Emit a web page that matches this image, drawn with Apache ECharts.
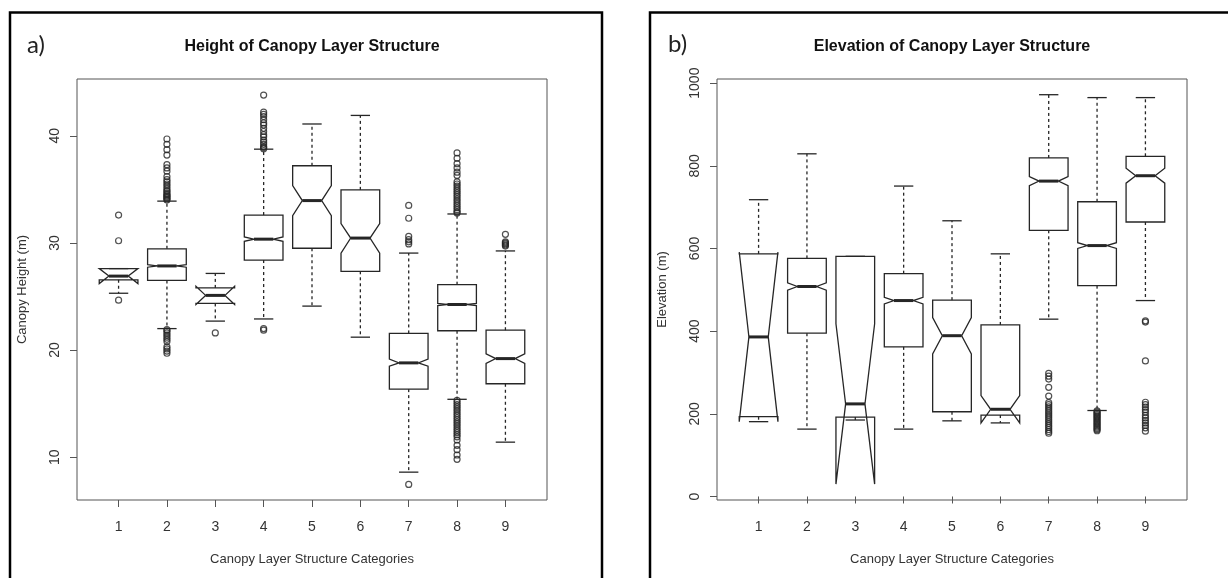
<!DOCTYPE html>
<html>
<head>
<meta charset="utf-8">
<title>Canopy Layer Structure</title>
<script src="https://cdn.jsdelivr.net/npm/echarts@6/dist/echarts.min.js"></script>
<style>
  html, body { margin: 0; padding: 0; background: #fff; }
  #chart { width: 1228px; height: 578px; }
</style>
</head>
<body>
<div id="chart"></div>
<script>
// canopy layer structure categories
const categories = [1, 2, 3, 4, 5, 6, 7, 8, 9];

// a) canopy height (m) - whisker / hinge / notch / median values per category
const heightWhiskerLo = [25.3, 22.0, 22.7, 22.9, 24.1, 21.2, 8.6, 15.4, 11.4];
const heightQ1 = [26.55, 26.5, 24.35, 28.4, 29.5, 27.35, 16.35, 21.8, 16.85];
const heightConfLo = [26.2, 27.73, 24.25, 30.15, 32.55, 29.05, 18.5, 24.15, 18.75];
const heightMedian = [26.9, 27.85, 25.1, 30.35, 33.95, 30.45, 18.8, 24.25, 19.2];
const heightConfHi = [27.6, 27.97, 25.95, 30.55, 35.35, 31.8, 19.15, 24.35, 19.65];
const heightQ3 = [27.6, 29.45, 25.8, 32.6, 37.2, 34.95, 21.55, 26.1, 21.85];
const heightWhiskerHi = [27.6, 33.9, 27.15, 38.75, 41.1, 41.9, 29.05, 32.7, 29.25];
const heightOutliers = [
  [32.6, 30.2, 24.65],
  [39.7, 39.2, 38.7, 38.2, 37.3, 37.0, 36.7, 36.2, 35.9, 35.7, 35.5, 35.3, 35.1, 34.9, 34.8, 34.6, 34.5, 34.4, 34.3, 34.2, 34.1, 34.0,
   21.9, 21.8, 21.6, 21.4, 21.2, 21.0, 20.8, 20.3, 20.1, 19.9, 19.7],
  [21.6],
  [43.8, 42.2, 42.0, 41.8, 41.5, 41.2, 41.0, 40.7, 40.4, 40.1, 39.9, 39.6, 39.4, 39.2, 39.0, 38.9, 38.8, 22.0, 21.85],
  [],
  [],
  [33.5, 32.3, 30.6, 30.3, 30.1, 29.9, 7.45],
  [38.4, 37.9, 37.4, 37.0, 36.6, 36.3, 35.7, 35.5, 35.3, 35.1, 34.9, 34.7, 34.5, 34.3, 34.1, 33.9, 33.7, 33.5, 33.3, 33.1, 32.9, 32.8,
   15.3, 15.1, 14.9, 14.7, 14.5, 14.3, 14.1, 13.9, 13.7, 13.5, 13.3, 13.1, 12.9, 12.7, 12.5, 12.3, 12.1, 11.9, 11.6, 11.1, 10.7, 10.2, 9.8],
  [30.8, 30.1, 30.0, 29.9, 29.8, 29.7]
];
const heightTicks = [10, 20, 30, 40];

// b) elevation (m)
const elevWhiskerLo = [181, 163, 185, 163, 183, 178, 429, 208, 474];
const elevQ1 = [193, 395, 192, 362, 205, 197, 644, 510, 664];
const elevConfLo = [181, 499, 30, 466, 345, 178, 752, 600, 758];
const elevMedian = [386, 508, 224, 474, 389, 211, 763, 607, 776];
const elevConfHi = [591, 517, 418, 482, 433, 244, 774, 614, 794];
const elevQ3 = [587, 576, 581, 539, 475, 415, 819, 713, 823];
const elevWhiskerHi = [718, 829, 581, 751, 667, 587, 972, 965, 965];
const elevOutliers = [
  [],
  [],
  [],
  [],
  [],
  [],
  [298, 291, 284, 264, 243, 227, 222, 217, 212, 207, 202, 197, 192, 187, 182, 177, 172, 167, 162, 157, 153],
  [207, 204, 201, 198, 195, 192, 189, 186, 183, 180, 177, 174, 171, 168, 165, 162, 159],
  [425, 422, 328, 228, 222, 216, 210, 204, 196, 190, 184, 178, 172, 166, 158]
];
const elevTicks = [0, 200, 400, 600, 800, 1000];

const LINE = "#262626";
const BOX_HALF = 0.4;     // boxwex 0.8
const STAPLE_HALF = 0.2;
const FONT = "'Liberation Sans', Arial, sans-serif";

const boxRows = (lo, q1, cl, md, ch, q3, hi) =>
  categories.map((c, i) => [c, lo[i], q1[i], cl[i], md[i], ch[i], q3[i], hi[i]]);

const outlierPoints = (list) => {
  const pts = [];
  list.forEach((vals, i) => vals.forEach((v) => pts.push([categories[i], v])));
  return pts;
};

// notched box like R's bxp(notch = TRUE)
const renderNotchBox = (params, api) => {
  const x = api.value(0);
  const [wLo, q1, cLo, med, cHi, q3, wHi] = [1, 2, 3, 4, 5, 6, 7].map((i) => api.value(i));
  const w = BOX_HALF, nf = 0.5, sw = STAPLE_HALF;
  const p = (dx, v) => api.coord([x + dx, v]);
  const line = (a, b, extra) => ({
    type: "line",
    shape: { x1: a[0], y1: a[1], x2: b[0], y2: b[1] },
    style: Object.assign({ stroke: LINE, lineWidth: 1.3 }, extra || {})
  });
  const children = [];
  if (wHi > q3) children.push(line(p(0, q3), p(0, wHi), { lineDash: [3, 3] }));
  if (wLo < q1) children.push(line(p(0, q1), p(0, wLo), { lineDash: [3, 3] }));
  children.push(line(p(-sw, wHi), p(sw, wHi)));
  children.push(line(p(-sw, wLo), p(sw, wLo)));
  children.push({
    type: "polygon",
    shape: {
      points: [p(-w, q1), p(w, q1), p(w, cLo), p(w * nf, med), p(w, cHi),
               p(w, q3), p(-w, q3), p(-w, cHi), p(-w * nf, med), p(-w, cLo)]
    },
    style: { fill: "none", stroke: LINE, lineWidth: 1.3 }
  });
  children.push(line(p(-w * nf, med), p(w * nf, med), { lineWidth: 3 }));
  return { type: "group", children };
};

const xAxisOf = (gridIndex) => ({
  type: "value",
  gridIndex,
  min: 0.14,
  max: 9.86,
  name: "Canopy Layer Structure Categories",
  nameLocation: "middle",
  nameGap: 53,
  nameTextStyle: { fontFamily: FONT, fontSize: 13, color: "#333" },
  axisLine: { show: false },
  axisTick: { show: true, inside: false, length: 7, customValues: categories, lineStyle: { color: "#555" } },
  axisLabel: { customValues: categories, margin: 20, fontFamily: FONT, fontSize: 14, color: "#333", formatter: (v) => String(v) },
  splitLine: { show: false }
});

const yAxisOf = (gridIndex, name, min, max, ticks) => ({
  type: "value",
  gridIndex,
  min,
  max,
  name,
  nameLocation: "middle",
  nameGap: 48,
  nameTextStyle: { fontFamily: FONT, fontSize: 13, color: "#333" },
  axisLine: { show: false },
  axisTick: { show: true, inside: false, length: 7, customValues: ticks, lineStyle: { color: "#555" } },
  axisLabel: { customValues: ticks, rotate: 90, margin: 15, fontFamily: FONT, fontSize: 14, color: "#333", formatter: (v) => String(v) },
  splitLine: { show: false }
});

const chart = echarts.init(document.getElementById("chart"));

const options = {
  animation: false,
  backgroundColor: "#fff",
  grid: [
    { left: 77, top: 79, width: 470, height: 421, show: true, borderColor: "#555", borderWidth: 1, backgroundColor: "transparent" },
    { left: 717, top: 79, width: 470, height: 421, show: true, borderColor: "#555", borderWidth: 1, backgroundColor: "transparent" }
  ],
  xAxis: [xAxisOf(0), xAxisOf(1)],
  yAxis: [
    yAxisOf(0, "Canopy Height (m)", 6.0, 45.3, heightTicks),
    yAxisOf(1, "Elevation (m)", -8.5, 1010, elevTicks)
  ],
  graphic: [
    // panel frames
    { type: "rect", shape: { x: 10, y: 12.5, width: 592, height: 620 }, style: { fill: "none", stroke: "#000", lineWidth: 2.5 }, silent: true },
    { type: "rect", shape: { x: 650, y: 12.5, width: 620, height: 620 }, style: { fill: "none", stroke: "#000", lineWidth: 2.5 }, silent: true },
    // panel letters
    { type: "text", x: 27, y: 45, style: { text: "a)", font: "24px Lato, 'Open Sans', sans-serif", fill: "#222", align: "left", verticalAlign: "middle" } },
    { type: "text", x: 668, y: 44, style: { text: "b)", font: "24px Lato, 'Open Sans', sans-serif", fill: "#222", align: "left", verticalAlign: "middle" } },
    // titles
    { type: "text", x: 312, y: 47, style: { text: "Height of Canopy Layer Structure", font: "bold 16px " + FONT, fill: "#111", align: "center", verticalAlign: "middle" } },
    { type: "text", x: 952, y: 47, style: { text: "Elevation of Canopy Layer Structure", font: "bold 16px " + FONT, fill: "#111", align: "center", verticalAlign: "middle" } }
  ],
  series: [
    {
      type: "custom",
      xAxisIndex: 0,
      yAxisIndex: 0,
      renderItem: renderNotchBox,
      encode: { x: 0, y: [1, 2, 3, 4, 5, 6, 7] },
      data: boxRows(heightWhiskerLo, heightQ1, heightConfLo, heightMedian, heightConfHi, heightQ3, heightWhiskerHi),
      silent: true
    },
    {
      type: "scatter",
      xAxisIndex: 0,
      yAxisIndex: 0,
      symbol: "circle",
      symbolSize: 6,
      itemStyle: { color: "rgba(0,0,0,0)", borderColor: LINE, borderWidth: 1.2 },
      data: outlierPoints(heightOutliers),
      silent: true
    },
    {
      type: "custom",
      xAxisIndex: 1,
      yAxisIndex: 1,
      renderItem: renderNotchBox,
      encode: { x: 0, y: [1, 2, 3, 4, 5, 6, 7] },
      data: boxRows(elevWhiskerLo, elevQ1, elevConfLo, elevMedian, elevConfHi, elevQ3, elevWhiskerHi),
      silent: true
    },
    {
      type: "scatter",
      xAxisIndex: 1,
      yAxisIndex: 1,
      symbol: "circle",
      symbolSize: 6,
      itemStyle: { color: "rgba(0,0,0,0)", borderColor: LINE, borderWidth: 1.2 },
      data: outlierPoints(elevOutliers),
      silent: true
    }
  ]
};

chart.setOption(options);
</script>
</body>
</html>
